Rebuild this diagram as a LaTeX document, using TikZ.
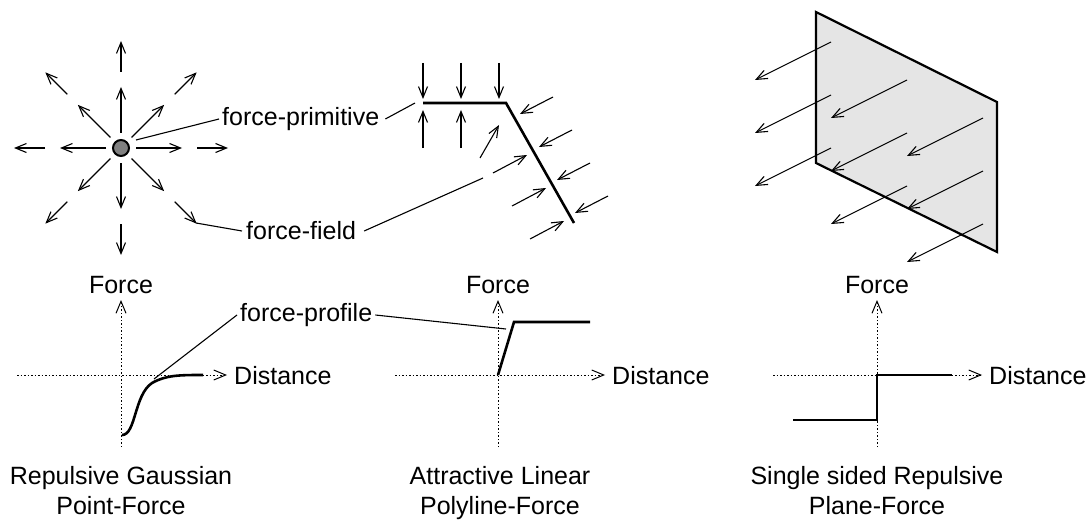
\documentclass[tikz,border=0pt]{standalone}
\usepackage{fontspec}
\setmainfont{Liberation Sans}
\usetikzlibrary{arrows.meta,positioning,calc}

\begin{document}
\begin{tikzpicture}[
  x=1pt,y=-1pt,
  font=\fontsize{25}{30}\selectfont,
  >={Straight Barb[length=11pt,width=9pt]},
  fld/.style={->,line width=1.1pt},
  lead/.style={line width=1.1pt},
  prof/.style={line width=2.6pt},
  axis/.style={-{Straight Barb[length=12pt,width=10pt]},line width=1pt,
               dash pattern=on 1.5pt off 2pt},
  lbl/.style={inner sep=3pt},
  captxt/.style={align=center,text depth=0pt,inner sep=0pt},
]
\useasboundingbox (0,0) rectangle (1089,524);

% point force with its radial field
\node[circle,draw,line width=2pt,fill=black!50,minimum size=16pt,
      inner sep=0pt] (pt) at (121,148) {};
\foreach \a in {0,45,...,315} {
  \draw[fld] ([shift={(\a:15)}]pt.center) -- ([shift={(\a:61)}]pt.center);
  \draw[fld] ([shift={(\a:76)}]pt.center) -- ([shift={(\a:107)}]pt.center);
}

% polyline force
\coordinate (pa) at (423,103);
\coordinate (pb) at (506,103);
\coordinate (pc) at (574,223);
\draw[prof] (pa) -- (pb) -- (pc);
\foreach \x in {423,461,499}
  \draw[fld] (\x,63) -- (\x,99);
\foreach \x in {423,461}
  \draw[fld] (\x,148) -- (\x,110);
\draw[fld] (480,158) -- (499,125);
\foreach \x/\y in {553/97,572/130,590/163,608/196}
  \draw[fld] (\x,\y) -- ++(-33,17);
\foreach \x/\y in {493/173,512/206,530/239}
  \draw[fld] (\x,\y) -- ++(34,-18);

% plane force
\draw[line width=2.2pt,fill=black!10] (816,12) -- (997,102) -- (997,252)
  -- (816,163) -- cycle;
\foreach \i in {0,1,2}
  \foreach \j in {0,1,2}
    \draw[fld] ({831+76*\i},{42+53*\j+38*\i}) -- ++(-76,38);

% labels of the upper row
\node[lbl,anchor=west] (prim) at (219,119) {force-primitive};
\draw[lead] (prim.west) -- (136,140);
\draw[lead] ([xshift=3pt]prim.east) -- ([xshift=-8pt]pa);
\node[lbl,anchor=west,inner sep=4pt] (ffld) at (242,231) {force-field};
\draw[lead] (ffld.west) -- (196,223);
\draw[lead] ([xshift=4pt]ffld.east) -- (483,178);

% force profiles
\foreach \n/\ox/\xl/\xr in {a/121/17/227,b/498/395/605,c/877/773/982} {
  \coordinate (o\n) at (\ox,375);
  \draw[axis] (\ox,447) -- (\ox,300);
  \draw[axis] (\xl,375) -- (\xr,375);
  \node (force\n) at (\ox,285) {Force};
  \node[anchor=west,inner sep=2pt] (dist\n) at (\xr+5,376) {Distance};
}
\draw[prof] (122,435) .. controls (136,435) and (134,395) .. (152,383)
  .. controls (166,375) and (180,375) .. (203,375);
\draw[prof] (ob) -- (514,322) -- (590,322);
\draw[prof] (793,420) -- (877,420) -- (oc) -- (952,375);

\node[lbl,anchor=west] (fprof) at (237,315) {force-profile};
\draw[lead] (fprof.west) -- (154,379);
\draw[lead] (fprof.east) -- (506,329);

% captions
\node[captxt] (capa) at (121,490) {Repulsive Gaussian\\Point-Force};
\node[captxt] (capb) at (500,490) {Attractive Linear\\Polyline-Force};
\node[captxt] (capc) at (877,490) {Single sided Repulsive\\Plane-Force};

\end{tikzpicture}
\end{document}
